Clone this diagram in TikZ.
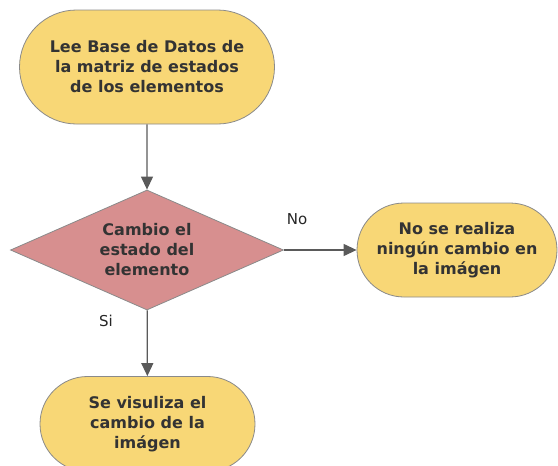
\documentclass[tikz,border=0pt]{standalone}
\usepackage{fontspec}
\setmainfont{DejaVu Sans}
\usetikzlibrary{shapes.misc,shapes.geometric,arrows.meta}
\definecolor{nodeyellow}{HTML}{F8D776}
\definecolor{nodepink}{HTML}{D78F8F}
\definecolor{nodeborder}{HTML}{8A8A8A}
\definecolor{linkgray}{HTML}{5A5A5A}
\definecolor{txtdark}{HTML}{333333}
\begin{document}
\begin{tikzpicture}[x=1pt,y=1pt,
  txt/.style={align=center, text=txtdark, font=\fontsize{16}{20}\selectfont\bfseries, inner sep=0pt},
  term/.style={rounded rectangle, draw=nodeborder, line width=0.8pt, fill=nodeyellow, txt},
  decis/.style={diamond, draw=nodeborder, line width=0.8pt, fill=nodepink, aspect=2.3, txt,
    minimum width=273pt, minimum height=120pt},
  link/.style={draw=linkgray, line width=1.2pt, -{Triangle[width=12pt,length=13pt]}},
  lbl/.style={font=\fontsize{15}{17}\selectfont, text=black!85, inner sep=0pt}
]
\useasboundingbox (0,0) rectangle (558,-466);
\node[term, minimum width=255pt, minimum height=114pt] (lee) at (147,-67)
  {Lee Base de Datos de\\la matriz de estados\\de los elementos};
\node[decis] (cambio) at (147,-250) {Cambio el\\estado del\\elemento};
\node[term, minimum width=200pt, minimum height=94pt] (nose) at (457,-250)
  {No se realiza\\ningún cambio en\\la imágen};
\node[term, minimum width=215pt, minimum height=95pt] (se) at (147.5,-424)
  {Se visuliza el\\cambio de la\\imágen};
\draw[link] (lee) -- (cambio);
\draw[link] (cambio.east) -- (nose.west);
\draw[link] (cambio) -- (se);
\node[lbl] (no) at (297,-219) {No};
\node[lbl] (si) at (106,-321) {Si};
\end{tikzpicture}
\end{document}
